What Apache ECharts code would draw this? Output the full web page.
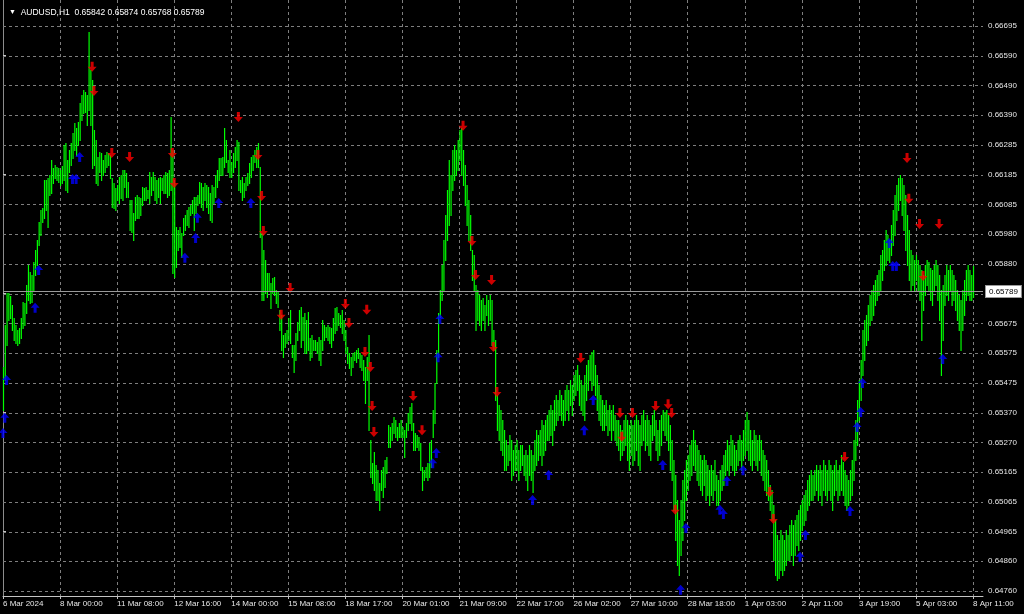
<!DOCTYPE html>
<html><head><meta charset="utf-8">
<script src="https://cdn.jsdelivr.net/npm/echarts@6.0.0/dist/echarts.min.js"></script>
<style>html,body{margin:0;padding:0;background:#000;}#c{width:1024px;height:614px;}</style>
</head><body><div id="c"></div>
<script>
const symbolName = 'AUDUSD,H1';
const lastOHLC = [0.65842, 0.65874, 0.65768, 0.65789];
const currentPrice = 0.65789;

const barHigh = [
0.65527,0.65671,0.65781,0.65781,0.65771,0.65740,0.65696,0.65671,0.65654,0.65661,
0.65696,0.65750,0.65747,0.65808,0.65877,0.65852,0.65842,0.65887,0.65928,0.65962,
0.66024,0.66065,0.66072,0.66168,0.66168,0.66175,0.66185,0.66236,0.66209,0.66219,
0.66212,0.66209,0.66202,0.66216,0.66288,0.66295,0.66236,0.66270,0.66295,0.66329,
0.66363,0.66346,0.66366,0.66431,0.66459,0.66476,0.66469,0.66459,0.66674,0.66544,
0.66510,0.66339,0.66305,0.66246,0.66264,0.66260,0.66236,0.66253,0.66264,0.66260,
0.66253,0.66175,0.66157,0.66140,0.66151,0.66178,0.66185,0.66202,0.66202,0.66192,
0.66161,0.66099,0.66099,0.66055,0.66109,0.66116,0.66109,0.66106,0.66144,0.66140,
0.66144,0.66133,0.66195,0.66178,0.66195,0.66178,0.66168,0.66175,0.66178,0.66175,
0.66185,0.66195,0.66192,0.66202,0.66383,0.66270,0.66157,0.66007,0.65996,0.66007,
0.65986,0.66038,0.66048,0.66065,0.66075,0.66082,0.66099,0.66109,0.66109,0.66116,
0.66161,0.66157,0.66144,0.66157,0.66151,0.66144,0.66123,0.66151,0.66144,0.66185,
0.66202,0.66243,0.66243,0.66246,0.66346,0.66305,0.66236,0.66270,0.66229,0.66260,
0.66281,0.66305,0.66298,0.66168,0.66178,0.66157,0.66178,0.66192,0.66226,0.66246,
0.66253,0.66270,0.66281,0.66295,0.66212,0.65986,0.65928,0.65894,0.65849,0.65849,
0.65815,0.65832,0.65835,0.65791,0.65784,0.65723,0.65706,0.65637,0.65644,0.65654,
0.65696,0.65723,0.65603,0.65603,0.65644,0.65681,0.65723,0.65733,0.65699,0.65712,
0.65688,0.65716,0.65627,0.65637,0.65620,0.65620,0.65613,0.65630,0.65620,0.65688,
0.65671,0.65664,0.65671,0.65664,0.65661,0.65696,0.65730,0.65733,0.65712,0.65706,
0.65723,0.65688,0.65654,0.65596,0.65575,0.65561,0.65575,0.65579,0.65585,0.65592,
0.65575,0.65568,0.65551,0.65527,0.65561,0.65637,0.65277,0.65198,0.65236,0.65192,
0.65174,0.65130,0.65174,0.65185,0.65209,0.65219,0.65329,0.65322,0.65335,0.65356,
0.65346,0.65322,0.65335,0.65346,0.65322,0.65311,0.65335,0.65370,0.65390,0.65404,
0.65335,0.65301,0.65294,0.65288,0.65267,0.65185,0.65174,0.65185,0.65198,0.65267,
0.65277,0.65380,0.65472,0.65585,0.65712,0.65791,0.65877,0.65962,0.66048,0.66133,
0.66236,0.66185,0.66270,0.66288,0.66270,0.66305,0.66339,0.66346,0.66270,0.66219,
0.66151,0.66099,0.66048,0.65928,0.65911,0.65808,0.65791,0.65774,0.65757,0.65764,
0.65740,0.65774,0.65757,0.65774,0.65757,0.65654,0.65620,0.65431,0.65397,0.65380,
0.65346,0.65311,0.65277,0.65260,0.65294,0.65277,0.65243,0.65260,0.65277,0.65243,
0.65260,0.65260,0.65226,0.65243,0.65226,0.65260,0.65243,0.65226,0.65277,0.65311,
0.65294,0.65311,0.65346,0.65329,0.65346,0.65363,0.65380,0.65397,0.65380,0.65414,
0.65431,0.65414,0.65448,0.65431,0.65414,0.65448,0.65466,0.65448,0.65483,0.65466,
0.65500,0.65517,0.65534,0.65500,0.65483,0.65466,0.65500,0.65534,0.65551,0.65568,
0.65579,0.65585,0.65534,0.65500,0.65466,0.65431,0.65414,0.65397,0.65414,0.65380,
0.65397,0.65380,0.65397,0.65363,0.65346,0.65346,0.65329,0.65311,0.65346,0.65363,
0.65346,0.65329,0.65346,0.65329,0.65346,0.65363,0.65346,0.65329,0.65363,0.65380,
0.65346,0.65363,0.65346,0.65329,0.65363,0.65380,0.65346,0.65311,0.65346,0.65363,
0.65380,0.65373,0.65380,0.65363,0.65329,0.65277,0.65209,0.65157,0.65072,0.65003,
0.65072,0.65140,0.65174,0.65209,0.65226,0.65260,0.65277,0.65311,0.65277,0.65260,
0.65243,0.65226,0.65209,0.65226,0.65209,0.65192,0.65174,0.65192,0.65174,0.65209,
0.65157,0.65140,0.65174,0.65192,0.65226,0.65243,0.65277,0.65260,0.65294,0.65277,
0.65260,0.65243,0.65277,0.65294,0.65277,0.65311,0.65346,0.65373,0.65346,0.65311,
0.65277,0.65311,0.65294,0.65277,0.65294,0.65277,0.65243,0.65226,0.65209,0.65174,
0.65123,0.65106,0.65055,0.65003,0.64952,0.64935,0.64969,0.64952,0.64935,0.64969,
0.64952,0.64986,0.65003,0.64986,0.65003,0.65021,0.65038,0.65055,0.65072,0.65089,
0.65106,0.65140,0.65157,0.65174,0.65157,0.65174,0.65192,0.65174,0.65192,0.65174,
0.65209,0.65192,0.65174,0.65209,0.65192,0.65174,0.65192,0.65209,0.65174,0.65192,
0.65226,0.65202,0.65174,0.65157,0.65140,0.65174,0.65209,0.65277,0.65346,0.65414,
0.65483,0.65551,0.65654,0.65688,0.65706,0.65740,0.65774,0.65791,0.65808,0.65825,
0.65842,0.65859,0.65911,0.65928,0.65962,0.65996,0.65979,0.65962,0.66014,0.66065,
0.66116,0.66151,0.66175,0.66185,0.66175,0.66151,0.66116,0.66048,0.65996,0.65928,
0.65911,0.65894,0.65911,0.65894,0.65877,0.65859,0.65842,0.65877,0.65894,0.65887,
0.65866,0.65859,0.65877,0.65894,0.65877,0.65842,0.65791,0.65808,0.65842,0.65877,
0.65859,0.65877,0.65859,0.65842,0.65825,0.65791,0.65774,0.65757,0.65791,0.65825,
0.65859,0.65877,0.65859,0.65842,0.65874
];
const barLow = [
0.65380,0.65483,0.65603,0.65688,0.65696,0.65654,0.65620,0.65610,0.65603,0.65610,
0.65627,0.65661,0.65671,0.65712,0.65757,0.65747,0.65750,0.65791,0.65842,0.65877,
0.65945,0.65979,0.66024,0.66038,0.66065,0.66007,0.66116,0.66123,0.66157,0.66175,
0.66168,0.66161,0.66151,0.66157,0.66168,0.66133,0.66127,0.66195,0.66219,0.66243,
0.66270,0.66253,0.66288,0.66305,0.66373,0.66397,0.66400,0.66356,0.66407,0.66356,
0.66209,0.66219,0.66157,0.66151,0.66195,0.66168,0.66185,0.66195,0.66212,0.66219,
0.66175,0.66075,0.66072,0.66065,0.66099,0.66089,0.66106,0.66099,0.66144,0.66109,
0.66109,0.65996,0.65989,0.65962,0.66031,0.66038,0.66038,0.66048,0.66082,0.66099,
0.66099,0.66106,0.66089,0.66116,0.66133,0.66099,0.66089,0.66109,0.66089,0.66133,
0.66123,0.66123,0.66109,0.66116,0.66133,0.65849,0.65835,0.65870,0.65928,0.65938,
0.65904,0.65979,0.65996,0.66014,0.66007,0.66048,0.66055,0.65996,0.66055,0.66082,
0.66089,0.66075,0.66065,0.66099,0.66075,0.66055,0.66031,0.66024,0.66089,0.66109,
0.66144,0.66168,0.66185,0.66185,0.66212,0.66229,0.66195,0.66178,0.66178,0.66195,
0.66212,0.66236,0.66133,0.66127,0.66099,0.66109,0.66133,0.66151,0.66157,0.66178,
0.66202,0.66229,0.66212,0.66212,0.65972,0.65757,0.65757,0.65781,0.65767,0.65791,
0.65730,0.65781,0.65774,0.65747,0.65733,0.65654,0.65585,0.65561,0.65596,0.65610,
0.65620,0.65610,0.65561,0.65510,0.65551,0.65620,0.65654,0.65596,0.65620,0.65575,
0.65575,0.65585,0.65551,0.65561,0.65585,0.65585,0.65575,0.65551,0.65534,0.65585,
0.65620,0.65630,0.65620,0.65610,0.65596,0.65620,0.65644,0.65654,0.65671,0.65664,
0.65644,0.65620,0.65575,0.65541,0.65524,0.65500,0.65527,0.65551,0.65544,0.65558,
0.65527,0.65517,0.65483,0.65404,0.65483,0.65311,0.65151,0.65130,0.65106,0.65072,
0.65072,0.65038,0.65106,0.65082,0.65116,0.65164,0.65253,0.65253,0.65277,0.65301,
0.65288,0.65277,0.65288,0.65288,0.65288,0.65219,0.65288,0.65311,0.65335,0.65311,
0.65243,0.65243,0.65253,0.65243,0.65174,0.65106,0.65140,0.65151,0.65140,0.65151,
0.65185,0.65288,0.65335,0.65472,0.65561,0.65699,0.65757,0.65791,0.65894,0.65962,
0.66014,0.66048,0.66133,0.66168,0.66185,0.66202,0.66236,0.66185,0.66151,0.66082,
0.66014,0.65962,0.65928,0.65825,0.65791,0.65654,0.65688,0.65671,0.65654,0.65688,
0.65654,0.65706,0.65671,0.65688,0.65603,0.65585,0.65414,0.65311,0.65277,0.65243,
0.65226,0.65174,0.65174,0.65192,0.65209,0.65140,0.65157,0.65174,0.65174,0.65140,
0.65174,0.65192,0.65157,0.65140,0.65106,0.65157,0.65140,0.65099,0.65174,0.65192,
0.65209,0.65226,0.65192,0.65226,0.65243,0.65277,0.65277,0.65294,0.65260,0.65311,
0.65329,0.65346,0.65363,0.65346,0.65329,0.65346,0.65380,0.65346,0.65397,0.65363,
0.65414,0.65431,0.65448,0.65397,0.65380,0.65363,0.65346,0.65414,0.65448,0.65483,
0.65448,0.65466,0.65431,0.65380,0.65346,0.65329,0.65311,0.65311,0.65329,0.65294,
0.65311,0.65277,0.65311,0.65277,0.65260,0.65243,0.65209,0.65226,0.65243,0.65260,
0.65209,0.65174,0.65226,0.65192,0.65209,0.65243,0.65192,0.65174,0.65260,0.65277,
0.65243,0.65260,0.65226,0.65209,0.65277,0.65294,0.65243,0.65209,0.65226,0.65260,
0.65311,0.65294,0.65277,0.65243,0.65174,0.65140,0.65038,0.64935,0.64849,0.64815,
0.64884,0.64935,0.65003,0.65072,0.65106,0.65140,0.65157,0.65192,0.65174,0.65140,
0.65123,0.65106,0.65089,0.65123,0.65072,0.65089,0.65055,0.65089,0.65072,0.65106,
0.65055,0.65055,0.65072,0.65106,0.65123,0.65157,0.65174,0.65157,0.65192,0.65174,
0.65157,0.65174,0.65192,0.65209,0.65174,0.65209,0.65226,0.65243,0.65209,0.65192,
0.65174,0.65209,0.65192,0.65174,0.65209,0.65157,0.65140,0.65106,0.65089,0.65072,
0.65038,0.65003,0.64866,0.64815,0.64798,0.64805,0.64832,0.64815,0.64832,0.64849,
0.64866,0.64866,0.64884,0.64849,0.64884,0.64918,0.64901,0.64935,0.64969,0.64986,
0.65003,0.65038,0.65055,0.65072,0.65072,0.65089,0.65106,0.65072,0.65089,0.65055,
0.65106,0.65089,0.65072,0.65106,0.65072,0.65038,0.65089,0.65106,0.65072,0.65089,
0.65106,0.65089,0.65055,0.65038,0.65055,0.65072,0.65089,0.65140,0.65209,0.65260,
0.65346,0.65414,0.65500,0.65551,0.65603,0.65620,0.65671,0.65688,0.65706,0.65740,
0.65757,0.65774,0.65791,0.65825,0.65859,0.65877,0.65894,0.65887,0.65911,0.65945,
0.65979,0.66031,0.66065,0.66099,0.66048,0.65996,0.65928,0.65877,0.65825,0.65791,
0.65808,0.65791,0.65825,0.65791,0.65757,0.65620,0.65723,0.65774,0.65808,0.65791,
0.65757,0.65740,0.65791,0.65808,0.65757,0.65688,0.65500,0.65620,0.65740,0.65774,
0.65757,0.65791,0.65740,0.65757,0.65723,0.65688,0.65654,0.65585,0.65654,0.65706,
0.65757,0.65774,0.65757,0.65757,0.65768
];

// [bar index, price]
const buySignals = [[0,0.65301],[1,0.65353],[2,0.65483],[18,0.65730],[20,0.65859],[39,0.66171],[41,0.66171],[43,0.66246],
[102,0.65901],[108,0.65969],[109,0.66038],[121,0.66089],[139,0.66089],[241,0.65198],[243,0.65233],[244,0.65561],[245,0.65692],
[297,0.65072],[306,0.65157],[326,0.65311],[331,0.65414],[370,0.65192],[380,0.64764],[383,0.64976],[402,0.65038],[404,0.65024],
[406,0.65137],[415,0.65174],[447,0.64877],[450,0.64952],[475,0.65034],[479,0.65322],[481,0.65373],[482,0.65472],[497,0.65952],
[499,0.65873],[501,0.65873],[527,0.65555]];
const sellSignals = [[50,0.66555],[51,0.66472],[61,0.66260],[71,0.66246],[95,0.66260],[96,0.66157],[132,0.66383],[143,0.66253],
[145,0.66113],[146,0.65993],[156,0.65706],[161,0.65798],[192,0.65743],[194,0.65678],[203,0.65579],[204,0.65723],[206,0.65527],
[207,0.65394],[208,0.65305],[230,0.65428],[235,0.65311],[258,0.66353],[263,0.65959],[265,0.65842],[274,0.65825],[275,0.65596],
[277,0.65442],[324,0.65558],[346,0.65370],[347,0.65288],[353,0.65370],[366,0.65394],[373,0.65400],[375,0.65370],[377,0.65038],
[430,0.65099],[432,0.65007],[472,0.65219],[507,0.66243],[508,0.66103],[514,0.66017],[516,0.65839],[525,0.66017]];

const xTickLabels = ['6 Mar 2024','8 Mar 00:00','11 Mar 08:00','12 Mar 16:00','14 Mar 00:00','15 Mar 08:00','18 Mar 17:00',
'20 Mar 01:00','21 Mar 09:00','22 Mar 17:00','26 Mar 02:00','27 Mar 10:00','28 Mar 18:00','1 Apr 03:00','2 Apr 11:00',
'3 Apr 19:00','5 Apr 03:00','8 Apr 11:00'];
const yTickLabels = ['0.64760','0.64860','0.64965','0.65065','0.65165','0.65270','0.65370','0.65475','0.65575','0.65675',
'','0.65880','0.65980','0.66085','0.66185','0.66285','0.66390','0.66490','0.66590','0.66695'];

const BARS_PER_LABEL = 32, BARS_PER_GRID = 16;
const yFirst = 0.64760, yLast = 0.66695;
const yStep = (yLast - yFirst) / (yTickLabels.length - 1);
const yTickValues = yTickLabels.map((_, k) => yFirst + k * yStep);
const yLabelValues = yTickValues.filter((_, k) => yTickLabels[k] !== '');
const xLabelValues = xTickLabels.map((_, k) => k * BARS_PER_LABEL);
const Y_MIN = 0.64743, Y_MAX = 0.66784, X_MAX = 549.6;

const FONT = 'Tahoma, "Liberation Sans", Arial, sans-serif';
const gridColor = '#7e7e7e';
const axisColor = '#c4c4c4';

const barData = barHigh.map((h, i) => [i, h, barLow[i]]);

const upArrow = 'path://M4.5,0 L9,5 L6,5 L6,10 L3,10 L3,5 L0,5 Z';
const downArrow = 'path://M3,0 L6,0 L6,5 L9,5 L4.5,10 L0,5 L3,5 Z';

const chart = echarts.init(document.getElementById('c'), null, {renderer: 'canvas'});
chart.setOption({
  backgroundColor: '#000',
  animation: false,
  title: {
    left: 4, top: 3,
    text: '{t|▼}  ' + symbolName + '  ' + lastOHLC.map(v => v.toFixed(5)).join(' '),
    textStyle: {color: '#fff', fontSize: 8.5, fontWeight: 'normal', fontFamily: FONT,
      rich: {t: {fontSize: 7, color: '#fff'}}}
  },
  grid: {left: 2, right: 41, top: 0, bottom: 18, containLabel: false},
  xAxis: {
    type: 'value', min: 0, max: X_MAX, interval: BARS_PER_GRID,
    axisLine: {show: true, lineStyle: {color: axisColor, width: 1}},
    axisTick: {show: true, length: 3, customValues: xLabelValues, lineStyle: {color: axisColor}},
    axisLabel: {
      show: true, customValues: xLabelValues, align: 'left', margin: 4,
      color: '#e6e6e6', fontSize: 8, fontFamily: FONT,
      formatter: v => xTickLabels[Math.round(v / BARS_PER_LABEL)] || ''
    },
    splitLine: {show: true, lineStyle: {color: gridColor, type: [3, 3], width: 1}}
  },
  yAxis: [{
    type: 'value', position: 'right', min: Y_MIN, max: Y_MAX,
    axisLine: {show: true, lineStyle: {color: axisColor, width: 1}},
    axisTick: {show: true, length: 3, customValues: yTickValues, lineStyle: {color: axisColor}},
    axisLabel: {
      show: true, customValues: yLabelValues, margin: 5, align: 'left',
      color: '#e6e6e6', fontSize: 8, fontFamily: FONT,
      formatter: v => yTickLabels[Math.round((v - yFirst) / yStep)]
    },
    splitLine: {show: false}
  }, {
    type: 'value', position: 'left', min: Y_MIN, max: Y_MAX,
    axisLine: {show: true, lineStyle: {color: '#8c8c8c', width: 1}},
    axisTick: {show: false}, axisLabel: {show: false}, splitLine: {show: false}
  }],
  series: [
    {
      // horizontal dashed grid at the price ticks
      type: 'custom', z: 1, silent: true,
      data: yTickValues.map(v => [0, v]),
      encode: {x: 0, y: 1},
      renderItem: function (params, api) {
        const v = api.value(1);
        const a = api.coord([0, v]);
        const b = api.coord([X_MAX, v]);
        const y = Math.round(a[1]) + 0.5;
        return {type: 'line', shape: {x1: a[0], y1: y, x2: b[0], y2: y},
          style: {stroke: gridColor, lineWidth: 1, lineDash: [3, 3]}};
      }
    },
    {
      // high-low bars
      type: 'custom', z: 2, silent: true,
      data: barData,
      encode: {x: 0, y: [1, 2]},
      renderItem: function (params, api) {
        const i = api.value(0);
        const a = api.coord([i, api.value(1)]);
        const b = api.coord([i, api.value(2)]);
        const y1 = Math.round(a[1]);
        const h = Math.max(1, Math.round(b[1]) - y1 + 1);
        return {type: 'rect', shape: {x: a[0] - 0.1, y: y1, width: 1.2, height: h},
          style: {fill: '#00ff00', stroke: null, lineWidth: 0}};
      }
    },
    {
      type: 'scatter', z: 3, silent: true, data: buySignals,
      symbol: upArrow, symbolSize: [9, 10], itemStyle: {color: '#0000ff'}
    },
    {
      type: 'scatter', z: 3, silent: true, data: sellSignals,
      symbol: downArrow, symbolSize: [9, 10], itemStyle: {color: '#ff0000'}
    },
    {
      // current bid line and its price tag
      type: 'custom', z: 4, silent: true, clip: false,
      data: [[0, currentPrice]],
      encode: {x: 0, y: 1},
      renderItem: function (params, api) {
        const v = api.value(1);
        const a = api.coord([0, v]);
        const b = api.coord([X_MAX, v]);
        const y = Math.round(a[1]) + 0.5;
        return {type: 'group', children: [
          {type: 'line', shape: {x1: a[0], y1: y, x2: b[0], y2: y},
            style: {stroke: '#9a9a9a', lineWidth: 1}},
          {type: 'text', x: b[0] + 3, y: y,
            style: {text: v.toFixed(5), fill: '#000', backgroundColor: '#fff',
              borderColor: '#9a9a9a', borderWidth: 1, padding: [2, 3, 1, 3],
              font: '8px ' + FONT, verticalAlign: 'middle', align: 'left'}}
        ]};
      }
    }
  ]
});
</script>
</body></html>
